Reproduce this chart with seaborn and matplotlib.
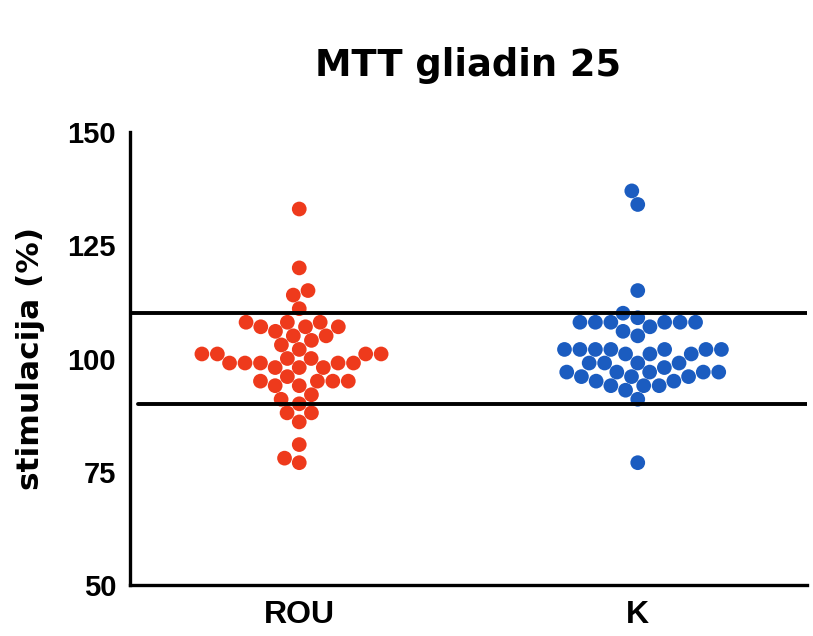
import matplotlib
matplotlib.use("Agg")
import matplotlib.pyplot as plt
import seaborn as sns
import pandas as pd

categories = ["ROU", "K"]
rou_values = [133, 120, 115, 114, 111, 108, 108, 108, 107, 107, 107, 106,
              105, 105, 104, 103, 100, 99, 101, 99, 101, 98, 101, 98, 101,
              98, 102, 99, 99, 100, 99, 96, 95, 95, 94, 94, 95, 95, 92, 91,
              90, 88, 88, 86, 81, 77, 78]
k_values = [137, 134, 115, 110, 109, 108, 108, 108, 108, 107, 108, 108, 106,
            105, 102, 102, 102, 101, 102, 102, 102, 102, 101, 101, 99, 97,
            95, 99, 97, 95, 98, 96, 94, 97, 96, 97, 96, 99, 97, 99, 93, 94,
            94, 91, 77]
ref_lines = [110, 90]
y_ticks = [50, 75, 100, 125, 150]
colors = {"ROU": "#EE3A1C", "K": "#1B5CC0"}

df = pd.DataFrame({
    "group": ["ROU"] * len(rou_values) + ["K"] * len(k_values),
    "value": rou_values + k_values,
})

sns.set_style("white")
plt.rcParams["font.family"] = ["Liberation Sans", "DejaVu Sans"]
plt.rcParams["text.color"] = "black"
plt.rcParams["axes.labelcolor"] = "black"
plt.rcParams["xtick.color"] = "black"
plt.rcParams["ytick.color"] = "black"

fig = plt.figure(figsize=(8.13, 6.36), dpi=100)
fig.patch.set_facecolor("white")
ax = fig.add_axes([130 / 813, 1 - 585 / 636, (807 - 130) / 813, (585 - 132) / 636])

sns.swarmplot(data=df, x="group", y="value", hue="group", order=categories,
              palette=colors, size=10.6, linewidth=0, legend=False, ax=ax,
              zorder=3)

ax.axhline(ref_lines[0], color="black", linewidth=2.8, zorder=4)
ax.axhline(ref_lines[1], xmin=0.012, color="black", linewidth=2.8, zorder=4)

ax.set_xlim(-0.5, 1.5)
ax.set_ylim(50, 150)
ax.set_yticks(y_ticks)
ax.set_yticklabels([str(t) for t in y_ticks])

for s in ["top", "right"]:
    ax.spines[s].set_visible(False)
for s in ["left", "bottom"]:
    ax.spines[s].set_linewidth(2.4)
    ax.spines[s].set_color("black")

ax.tick_params(axis="y", direction="out", length=9, width=2.2, pad=1,
               labelsize=21, colors="black")
ax.tick_params(axis="x", direction="out", length=8, width=2.2, pad=3,
               labelsize=23, colors="black")
for lab in ax.get_yticklabels() + ax.get_xticklabels():
    lab.set_fontweight("bold")

ax.set_xlabel("")
ax.set_ylabel("stimulacija (%)", fontsize=22.5, fontweight="bold",
              family="DejaVu Sans", labelpad=16, color="black")
ax.set_title("MTT gliadin 25", fontsize=26.5, fontweight="bold",
             family="DejaVu Sans", pad=40, color="black")

fig.savefig("out.png", dpi=100, facecolor="white")
